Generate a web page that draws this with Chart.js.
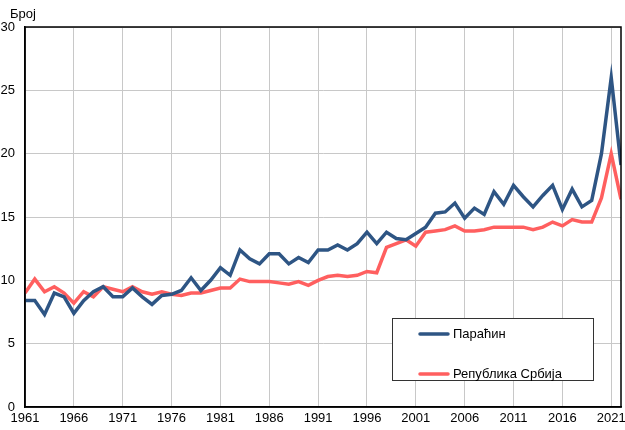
<!DOCTYPE html>
<html>
<head>
<meta charset="utf-8">
<script src="https://cdn.jsdelivr.net/npm/chart.js@4.4.0/dist/chart.umd.min.js"></script>
<style>
  html, body { margin: 0; padding: 0; background: #fff; }
  #wrap { width: 625px; height: 430px; position: relative; }
</style>
</head>
<body>
<div id="wrap"><canvas id="chart"></canvas></div>
<script>
const YEARS = [];
for (let y = 1961; y <= 2022; y++) YEARS.push(y);

const PARACIN = [
  8.4, 8.4, 7.3, 9.0, 8.7, 7.4, 8.4, 9.1, 9.5, 8.7,
  8.7, 9.4, 8.7, 8.1, 8.8, 8.9, 9.2, 10.2, 9.2, 10.0,
  11.0, 10.4, 12.4, 11.7, 11.3, 12.1, 12.1, 11.3, 11.8, 11.4,
  12.4, 12.4, 12.8, 12.4, 12.9, 13.8, 12.9, 13.8, 13.3, 13.2,
  13.7, 14.2, 15.3, 15.4, 16.1, 14.9, 15.7, 15.2, 17.0, 16.0,
  17.5, 16.6, 15.8, 16.7, 17.5, 15.6, 17.2, 15.8, 16.3, 20.0,
  26.0, 19.1
];

const SRBIJA = [
  9.0, 10.1, 9.1, 9.5, 9.0, 8.2, 9.1, 8.7, 9.5, 9.3,
  9.1, 9.5, 9.1, 8.9, 9.1, 8.9, 8.8, 9.0, 9.0, 9.2,
  9.4, 9.4, 10.1, 9.9, 9.9, 9.9, 9.8, 9.7, 9.9, 9.6,
  10.0, 10.3, 10.4, 10.3, 10.4, 10.7, 10.6, 12.6, 12.9, 13.2,
  12.7, 13.8, 13.9, 14.0, 14.3, 13.9, 13.9, 14.0, 14.2, 14.2,
  14.2, 14.2, 14.0, 14.2, 14.6, 14.3, 14.8, 14.6, 14.6, 16.5,
  20.0, 16.4
];

const X_TICKS = [1961, 1966, 1971, 1976, 1981, 1986, 1991, 1996, 2001, 2006, 2011, 2016, 2021];
const Y_TICKS = [0, 5, 10, 15, 20, 25, 30];

const BLUE = '#2e5584';
const RED = '#ff5f5f';
const FONT = "'Liberation Sans', Arial, sans-serif";

const toPoints = vals => YEARS.map((yr, i) => ({ x: yr, y: vals[i] }));

// frame, y label and boxed legend
const decor = {
  id: 'decor',
  afterDraw(chart) {
    const { ctx, chartArea: a } = chart;
    ctx.save();
    ctx.strokeStyle = '#000';
    ctx.lineWidth = 1.5;
    ctx.strokeRect(a.left, a.top, a.right - a.left, a.bottom - a.top);

    ctx.fillStyle = '#000';
    ctx.font = '13px ' + FONT;
    ctx.textBaseline = 'middle';
    ctx.textAlign = 'left';
    ctx.fillText('Број', 10, 14);

    // legend
    const bx = 392, by = 318, bw = 201, bh = 62;
    ctx.fillStyle = '#fff';
    ctx.fillRect(bx, by, bw, bh);
    ctx.strokeStyle = '#333';
    ctx.lineWidth = 1;
    ctx.strokeRect(bx + 0.5, by + 0.5, bw, bh);
    chart.data.datasets.forEach((ds, i) => {
      const ly = by + 16 + i * 40;
      ctx.strokeStyle = ds.borderColor;
      ctx.lineWidth = 3.5;
      ctx.lineCap = 'round';
      ctx.beginPath();
      ctx.moveTo(bx + 28, ly);
      ctx.lineTo(bx + 56, ly);
      ctx.stroke();
      ctx.fillStyle = '#000';
      ctx.font = '13px ' + FONT;
      ctx.fillText(ds.label, bx + 61, ly);
    });
    ctx.restore();
  }
};

new Chart(document.getElementById('chart'), {
  type: 'line',
  data: {
    datasets: [
      {
        label: 'Параћин',
        data: toPoints(PARACIN),
        borderColor: BLUE,
        borderWidth: 3.5,
        pointRadius: 0,
        tension: 0,
      },
      {
        label: 'Република Србија',
        data: toPoints(SRBIJA),
        borderColor: RED,
        borderWidth: 3.5,
        pointRadius: 0,
        tension: 0,
      },
    ],
  },
  options: {
    responsive: true,
    maintainAspectRatio: false,
    animation: false,
    layout: { padding: { top: 27, right: 4, left: 0, bottom: 0 } },
    plugins: {
      legend: { display: false },
      tooltip: { enabled: false },
    },
    scales: {
      x: {
        type: 'linear',
        min: 1961,
        max: 2022,
        afterBuildTicks: s => { s.ticks = X_TICKS.map(v => ({ value: v })); },
        afterFit: s => { s.height = 23; s.paddingRight = 0; s.paddingLeft = 0; },
        ticks: {
          color: '#000',
          font: { family: FONT, size: 13 },
          padding: 4,
          maxRotation: 0,
          autoSkip: false,
          callback: v => String(v),
        },
        grid: { color: '#c8c8c8', lineWidth: 1, drawTicks: false },
        border: { color: '#000', width: 1.5 },
      },
      y: {
        min: 0,
        max: 30,
        afterBuildTicks: s => { s.ticks = Y_TICKS.map(v => ({ value: v })); },
        afterFit: s => { s.width = 25; },
        ticks: {
          color: '#000',
          font: { family: FONT, size: 13 },
          padding: 10,
        },
        grid: { color: '#c8c8c8', lineWidth: 1, drawTicks: false },
        border: { color: '#000', width: 1.5 },
      },
    },
  },
  plugins: [decor],
});
</script>
</body>
</html>
